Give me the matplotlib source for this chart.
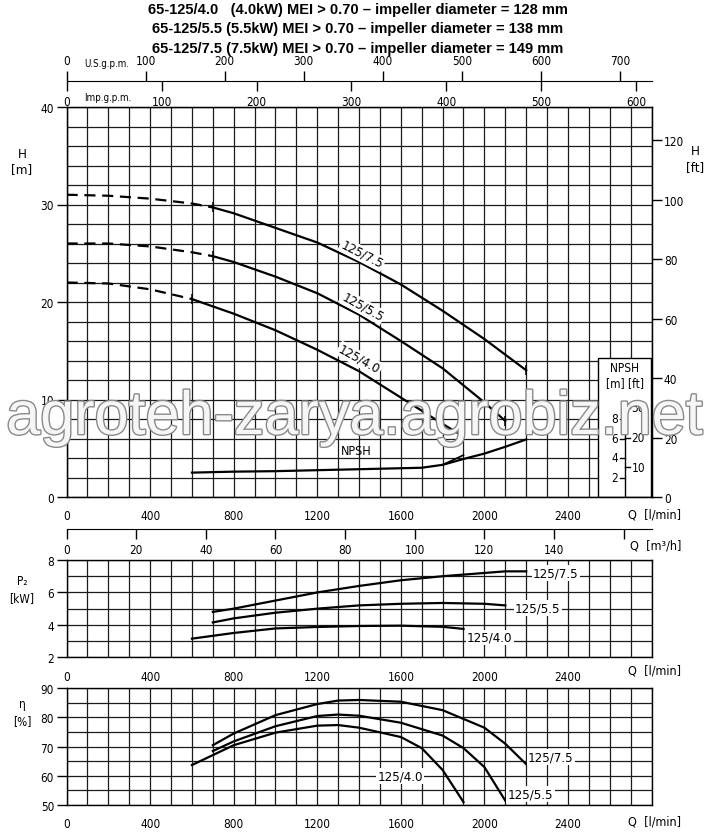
import numpy as np
import matplotlib
matplotlib.use("Agg")
import matplotlib.pyplot as plt
from matplotlib import font_manager
from matplotlib.ticker import MultipleLocator, FixedLocator
from matplotlib.patches import Rectangle
import matplotlib.patheffects as pe

# --- data ---
titles = ["65-125/4.0   (4.0kW) MEI > 0.70 \u2013 impeller diameter = 128 mm",
          "65-125/5.5 (5.5kW) MEI > 0.70 \u2013 impeller diameter = 138 mm",
          "65-125/7.5 (7.5kW) MEI > 0.70 \u2013 impeller diameter = 149 mm"]
models = ["125/4.0", "125/5.5", "125/7.5"]

# head H [m] vs Q [l/min]
q_h_40 = [0, 200, 400, 600, 800, 1000, 1200, 1400, 1600, 1800, 1900]
h_40 = [22.0, 21.9, 21.3, 20.3, 18.8, 17.1, 15.1, 12.9, 10.2, 7.5, 6.2]
q_h_55 = [0, 200, 400, 600, 700, 800, 1000, 1200, 1400, 1600, 1800, 2000, 2100]
h_55 = [26.0, 26.0, 25.7, 25.1, 24.7, 24.1, 22.6, 20.9, 18.7, 16.0, 13.2, 9.7, 7.8]
q_h_75 = [0, 200, 400, 600, 700, 800, 1000, 1200, 1400, 1600, 1800, 2000, 2200]
h_75 = [31.0, 30.9, 30.6, 30.1, 29.7, 29.1, 27.6, 26.1, 24.1, 21.8, 19.1, 16.2, 13.0]
dash_end = [600, 700, 700]

# NPSH [m]
q_npsh = [600, 800, 1000, 1200, 1400, 1600, 1700, 1800, 1900, 2000, 2100, 2200]
npsh = [2.5, 2.6, 2.65, 2.75, 2.85, 2.95, 3.0, 3.3, 3.9, 4.45, 5.15, 5.9]
q_npsh_40 = [1800, 1850, 1900]
npsh_40 = [3.3, 3.8, 4.3]

# P2 [kW]
q_p_40 = [600, 800, 1000, 1200, 1400, 1600, 1800, 1900]
p_40 = [3.15, 3.5, 3.78, 3.87, 3.93, 3.95, 3.88, 3.75]
q_p_55 = [700, 800, 1000, 1200, 1400, 1600, 1800, 2000, 2100]
p_55 = [4.15, 4.4, 4.75, 5.0, 5.2, 5.3, 5.35, 5.3, 5.2]
q_p_75 = [700, 800, 1000, 1200, 1400, 1600, 1800, 2000, 2100, 2200]
p_75 = [4.8, 5.0, 5.5, 6.0, 6.4, 6.75, 7.0, 7.2, 7.3, 7.3]

# efficiency [%]
q_e_40 = [600, 800, 1000, 1200, 1300, 1400, 1600, 1700, 1800, 1900]
e_40 = [63.7, 70.5, 74.8, 77.2, 77.4, 76.5, 73.3, 69.5, 62.0, 51.0]
q_e_55 = [700, 800, 1000, 1200, 1300, 1400, 1600, 1800, 1900, 2000, 2100]
e_55 = [68.5, 71.8, 77.0, 80.5, 81.0, 80.6, 78.2, 73.8, 69.5, 63.0, 51.5]
q_e_75 = [700, 800, 1000, 1200, 1300, 1400, 1600, 1800, 2000, 2100, 2200]
e_75 = [70.5, 74.5, 80.8, 84.6, 85.8, 86.0, 85.4, 82.5, 76.5, 71.0, 64.0]

H_curves = [(q_h_40, h_40), (q_h_55, h_55), (q_h_75, h_75)]
P_curves = [(q_p_40, p_40), (q_p_55, p_55), (q_p_75, p_75)]
E_curves = [(q_e_40, e_40), (q_e_55, e_55), (q_e_75, e_75)]

# --- fonts: narrow face if there is one ---
fl = font_manager.fontManager.ttflist
avail = {f.name for f in fl}
if "Liberation Sans Narrow" in avail:
    plt.rcParams["font.family"] = ["Liberation Sans Narrow", "DejaVu Sans"]
    TS = 9.5
else:
    plt.rcParams["font.family"] = ["DejaVu Sans"]
    if any(f.name == "DejaVu Sans" and str(f.stretch) == "condensed" for f in fl):
        plt.rcParams["font.stretch"] = "condensed"
    TS = 8.5

W, H = 712, 837
fig = plt.figure(figsize=(7.12, 8.37), dpi=100)


def box(x0, y0, x1, y1):
    return [x0 / W, 1 - y1 / H, (x1 - x0) / W, (y1 - y0) / H]


def ftext(x, y, s, **kw):
    kw.setdefault("ha", "center")
    kw.setdefault("va", "center")
    kw.setdefault("fontsize", TS)
    fig.text(x / W, 1 - y / H, s, **kw)


GRID = dict(color="#1c1c1c", linewidth=0.9)
XL, XR = 66.6, 651.5


def panel(rect, ymin, ymax, ymajor, yminor):
    ax = fig.add_axes(rect)
    ax.set_xlim(0, 2800)
    ax.set_ylim(ymin, ymax)
    ax.xaxis.set_major_locator(FixedLocator(range(0, 2401, 400)))
    ax.xaxis.set_minor_locator(MultipleLocator(100))
    ax.yaxis.set_major_locator(MultipleLocator(ymajor))
    ax.yaxis.set_minor_locator(MultipleLocator(yminor))
    ax.grid(True, which="both", **GRID)
    ax.set_axisbelow(True)
    ax.tick_params(axis="x", which="both", length=0, pad=9, labelsize=TS)
    ax.tick_params(axis="y", which="major", length=7, width=1, pad=2, labelsize=TS)
    ax.tick_params(axis="y", which="minor", length=0)
    for s in ax.spines.values():
        s.set_linewidth(1.0)
    return ax


# ---------------- main H panel ----------------
ax = panel(box(XL, 108, XR, 498), 0, 40, 10, 2)
for (q, h), qd in zip(H_curves, dash_end):
    q = np.array(q)
    h = np.array(h)
    d = q <= qd
    s = q >= qd
    ax.plot(q[d], h[d], color="k", lw=1.6, dashes=(5, 3), zorder=3)
    ax.plot(q[s], h[s], color="k", lw=1.6, zorder=3)
    ax.plot([q[s][0], q[-1]], [h[s][0], h[-1]], ls="none", marker="|",
            ms=7, mew=1.1, color="k", zorder=3)

ax.plot(q_npsh, npsh, color="k", lw=1.6, zorder=3)
ax.plot(q_npsh_40, npsh_40, color="k", lw=1.2, zorder=3)
ax.text(1388, 4.75, "NPSH", fontsize=TS + 0.5, ha="center", va="center", zorder=4)

lab_pos = [(1402, 14.15, -29), (1417, 19.5, -29), (1415, 24.9, -27)]
for m, (x, y, r) in zip(models, lab_pos):
    ax.text(x, y, m, rotation=r, fontsize=TS + 1, ha="center", va="center", zorder=4,
            rotation_mode="anchor",
            bbox=dict(boxstyle="square,pad=0.1", fc="white", ec="none"))

# NPSH inset
ax.add_patch(Rectangle((2545, 0), 255, 14.25, fc="white", ec="k", lw=1.0, zorder=2))
xa = 2673
ax.plot([xa, xa], [0, 9.6], color="k", lw=1.0, zorder=3)
for v in [2, 4, 6, 8]:
    ax.plot([xa - 25, xa], [v, v], color="k", lw=1.0, zorder=3)
    ax.text(xa - 32, v, str(v), ha="right", va="center", fontsize=TS, zorder=4)
for v in [10, 20, 30]:
    ax.plot([xa, xa + 25], [v / 3.2808] * 2, color="k", lw=1.0, zorder=3)
    ax.text(xa + 32, v / 3.2808, str(v), ha="left", va="center", fontsize=TS, zorder=4)
ax.text(xa, 13.3, "NPSH", ha="center", va="center", fontsize=TS, zorder=4)
ax.text(xa, 11.75, "[m] [ft]", ha="center", va="center", fontsize=TS, zorder=4)

# right axis in feet
axf = ax.twinx()
axf.set_ylim(0, 40 * 3.2808)
axf.yaxis.set_major_locator(FixedLocator(range(0, 121, 20)))
axf.tick_params(axis="y", length=7, width=1, pad=2, labelsize=TS)

ftext(22, 162, "H\n[m]", fontsize=TS + 1, linespacing=1.3)
ftext(695, 160, "H\n[ft]", fontsize=TS + 1, linespacing=1.3)
ftext(628, 515, "Q  [l/min]", ha="left", fontsize=TS + 0.5)

# gallons axis above the chart
rect_g = [XL / W, 1 - 82 / H, (XR - XL) / W, 1e-4]
ax_us = fig.add_axes(rect_g)
ax_us.set_xlim(0, 2800 / 3.785)
ax_us.set_yticks([])
ax_us.xaxis.set_major_locator(FixedLocator(range(0, 701, 100)))
ax_us.tick_params(axis="x", bottom=False, top=True, labelbottom=False, labeltop=True,
                  length=7, width=1, pad=3, labelsize=TS)
for k, s in ax_us.spines.items():
    s.set_visible(k == "bottom")
ax_imp = fig.add_axes(rect_g)
ax_imp.set_xlim(0, 2800 / 4.546)
ax_imp.set_yticks([])
ax_imp.patch.set_visible(False)
ax_imp.xaxis.set_major_locator(FixedLocator(range(0, 601, 100)))
ax_imp.tick_params(axis="x", length=7, width=1, pad=3, labelsize=TS)
for s in ax_imp.spines.values():
    s.set_visible(False)
ftext(84, 64, "U.S.g.p.m.", ha="left", fontsize=TS - 1.5)
ftext(84, 98, "Imp.g.p.m.", ha="left", fontsize=TS - 1.5)

# m3/h axis
ax_m3 = fig.add_axes([XL / W, 1 - 530 / H, (XR - XL) / W, 1e-4])
ax_m3.set_xlim(0, 2800 * 0.06)
ax_m3.set_yticks([])
ax_m3.xaxis.set_major_locator(FixedLocator(range(0, 161, 20)))
ax_m3.set_xticklabels([str(v) for v in range(0, 141, 20)] + [""])
ax_m3.tick_params(axis="x", length=7, width=1, pad=3, labelsize=TS)
for k, s in ax_m3.spines.items():
    s.set_visible(k == "bottom")
ftext(630, 546, "Q  [m\u00b3/h]", ha="left", fontsize=TS + 0.5)

# ---------------- P2 panel ----------------
axp = panel(box(XL, 561, XR, 658.3), 2, 8, 2, 1)
for q, p in P_curves:
    axp.plot(q, p, color="k", lw=1.6, zorder=3)
for m, (x, y) in zip(models, [(1916, 3.23), (2146, 5.03), (2232, 7.18)]):
    axp.text(x, y, m, ha="left", va="center", fontsize=TS + 1, zorder=4,
             bbox=dict(boxstyle="square,pad=0.1", fc="white", ec="none"))
ftext(22, 590, "P\u2082\n[kW]", fontsize=TS, linespacing=1.4)
ftext(628, 671, "Q  [l/min]", ha="left", fontsize=TS + 0.5)

# ---------------- efficiency panel ----------------
axe = panel(box(XL, 689.3, XR, 806), 50, 90, 10, 5)
for q, e in E_curves:
    axe.plot(q, e, color="k", lw=1.6, zorder=3)
for m, (x, y) in zip(models, [(1489, 59.9), (2112, 53.8), (2208, 66.4)]):
    axe.text(x, y, m, ha="left", va="center", fontsize=TS + 1, zorder=4,
             bbox=dict(boxstyle="square,pad=0.1", fc="white", ec="none"))
ftext(22, 713, "\u03b7\n[%]", fontsize=TS, linespacing=1.4)
ftext(628, 822, "Q  [l/min]", ha="left", fontsize=TS + 0.5)

# titles
for i, t in enumerate(titles):
    ftext(358, 10 + 19.5 * i, t, family="Liberation Sans", weight="bold",
          fontsize=10.5, stretch="normal")

# watermark
fig.text(355 / W, 1 - 435 / H, "agroteh-zarya.agrobiz.net", family="Liberation Sans",
         fontsize=44, color="#f6f6f6", ha="center", va="baseline", zorder=20,
         stretch="normal",
         path_effects=[pe.Stroke(linewidth=2.0, foreground="#8a8a8a"), pe.Normal()])

fig.savefig("out.png", dpi=100, facecolor="white")
